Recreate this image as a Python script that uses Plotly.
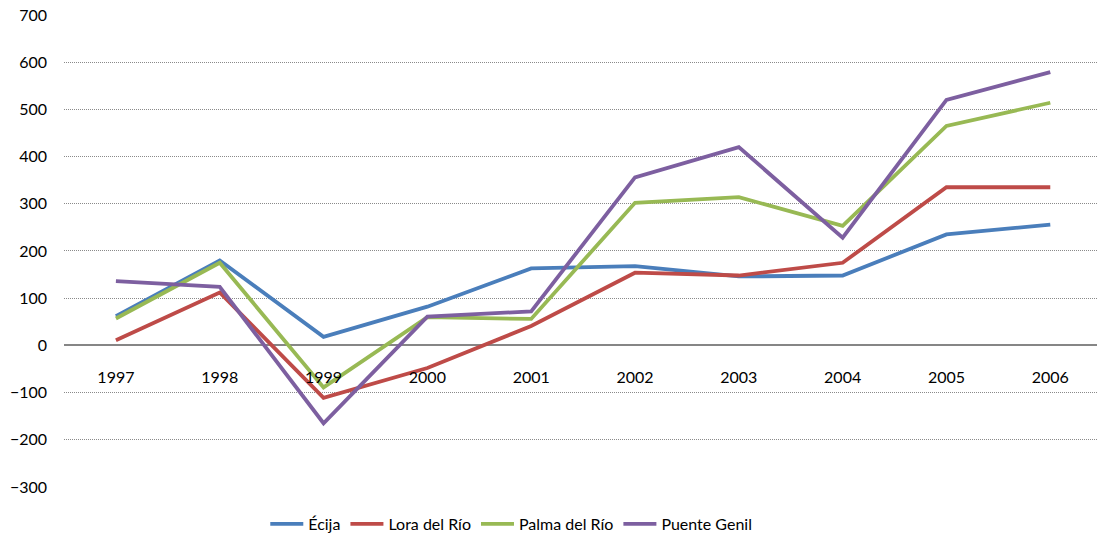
import plotly.graph_objects as go

years = ["1997", "1998", "1999", "2000", "2001", "2002", "2003", "2004", "2005", "2006"]
ecija = [62, 180, 18, 82, 163, 168, 146, 148, 235, 256]
lora = [11, 112, -111, -48, 41, 154, 148, 175, 335, 335]
palma = [57, 175, -89, 60, 56, 302, 314, 253, 465, 514]
puente = [136, 124, -165, 61, 72, 356, 420, 228, 520, 579]

series = [
    ("Écija", ecija, "#4A7EBB"),
    ("Lora del Río", lora, "#BE4B48"),
    ("Palma del Río", palma, "#98B954"),
    ("Puente Genil", puente, "#7D5FA0"),
]

fig = go.Figure()
for name, vals, col in series:
    fig.add_trace(go.Scatter(x=years, y=vals, name=name, mode="lines",
                             line=dict(color=col, width=3.8)))

# figure is slightly taller than the window so the legend never forces a margin push
font = dict(family="Lato, 'Open Sans', sans-serif", size=16, color="#000000")
fig.update_layout(
    width=1097, height=545,
    margin=dict(l=64, r=0, t=14, b=58),
    plot_bgcolor="white", paper_bgcolor="white",
    font=font,
    showlegend=True,
    legend=dict(orientation="h", x=0.433, xanchor="center",
                y=-0.078, yanchor="middle",
                font=dict(size=16), itemwidth=33, tracegroupgap=0),
    xaxis=dict(type="category", range=[-0.5, 9.45], anchor="free", position=0.3,
               showgrid=False, showline=False, ticks="", ticklabelstandoff=21,
               tickfont=dict(size=16)),
    yaxis=dict(range=[-300, 702], tickvals=list(range(-300, 701, 100)),
               showgrid=True, gridcolor="#8a8a8a", griddash="1px,1px", gridwidth=1,
               zeroline=True, zerolinecolor="#868686", zerolinewidth=2,
               ticks="", ticklabelstandoff=16, tickfont=dict(size=16)),
)

fig.write_html("out.html", config={"displayModeBar": False},
               post_script="document.body.style.margin='0';document.body.style.overflow='hidden';")
